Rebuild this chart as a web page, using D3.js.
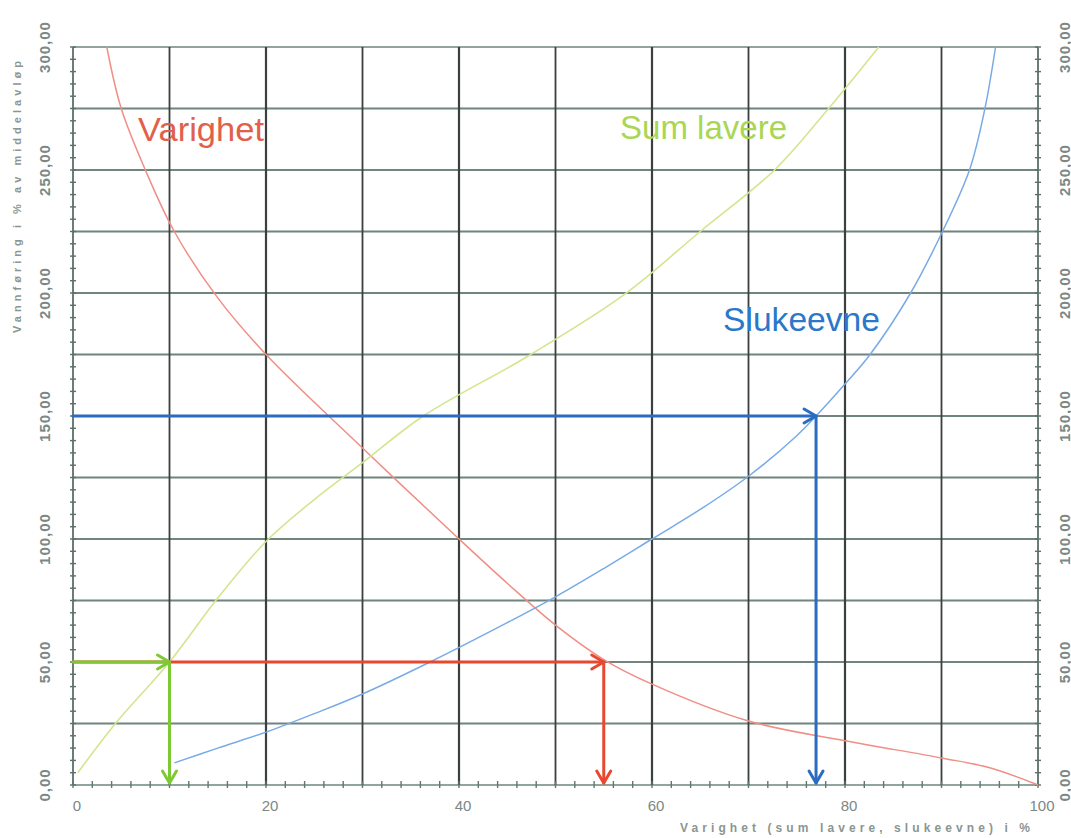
<!DOCTYPE html>
<html><head><meta charset="utf-8">
<script src="https://cdn.jsdelivr.net/npm/d3@7"></script>
<style>body{margin:0;background:#fff}svg{display:block}</style>
</head><body>
<svg id="c" width="1071" height="838"></svg>
<script>
// ---- data ----
const xTicks = [0, 20, 40, 60, 80, 100];
const xTickLabels = ["0", "20", "40", "60", "80", "100"];
const yTicks = [0, 50, 100, 150, 200, 250, 300];
const yTickLabels = ["0,00", "50,00", "100,00", "150,00", "200,00", "250,00", "300,00"];
const varighetX = [3.5, 5, 7.5, 10.5, 15, 20, 30, 40, 45, 50, 55, 60, 70, 80, 90, 95, 100];
const varighetY = [300, 275, 250, 225, 198, 175, 137, 100, 82, 65, 51, 41, 26, 18, 11, 7, 0];
const sumLavereX = [0.5, 4.4, 10, 15, 20, 25, 30, 36.3, 47, 57, 65, 72.7, 78.3, 83.5];
const sumLavereY = [5, 25, 50, 76, 99, 116, 131, 150, 174, 199, 225, 250, 275, 300];
const slukeevneX = [10.5, 15, 20, 25, 30, 37, 45, 50, 55, 60, 65, 70, 75, 77, 80, 82.6, 86.8, 90.1, 92.9, 94.5, 95.6];
const slukeevneY = [9, 15, 21.5, 29, 37, 50, 66, 76.5, 88, 100, 112, 125.5, 142, 150, 163, 175, 200, 225, 250, 275, 300];
// reading arrows: [x at curve, y level]
const arrowGreen = [10, 50];
const arrowRed = [55, 50];
const arrowBlue = [77, 150];
const seriesLabels = ["Varighet", "Sum lavere", "Slukeevne"];
const yTitle = "Vannføring i % av middelavløp";
const xTitle = "Varighet (sum lavere, slukeevne) i %";

// ---- drawing ----
const svg = d3.select("#c");
const x = d3.scaleLinear().domain([0, 100]).range([73, 1038]);
const y = d3.scaleLinear().domain([0, 300]).range([785, 47]);

const gridV = d3.range(0, 101, 10);
const gridH = d3.range(0, 301, 25);

// horizontal grid (greenish gray)
svg.append("g").selectAll("line").data(gridH).join("line")
  .attr("x1", x(0)).attr("x2", x(100))
  .attr("y1", d => y(d)).attr("y2", d => y(d))
  .attr("stroke", "#61786f").attr("stroke-width", d => (d === 0 || d === 300) ? 1.6 : 1.8).attr("opacity", 0.9);
// vertical grid (dark gray)
svg.append("g").selectAll("line").data(gridV).join("line")
  .attr("x1", d => x(d)).attr("x2", d => x(d))
  .attr("y1", y(0)).attr("y2", y(300))
  .attr("stroke", d => (d === 0 || d === 100) ? "#5c6f69" : "#3b3f3e")
  .attr("stroke-width", d => (d % 20 === 0 && d > 0 && d < 100) ? 2.2 : 1.8);

// minor ticks
const minorY = d3.range(0, 301, 5);
svg.append("g").selectAll("line").data(minorY).join("line")
  .attr("x1", x(0) - 3).attr("x2", x(0) + 3)
  .attr("y1", d => y(d)).attr("y2", d => y(d))
  .attr("stroke", "#5c6f69").attr("stroke-width", 1.4);
svg.append("g").selectAll("line").data(minorY).join("line")
  .attr("x1", x(100) - 3).attr("x2", x(100) + 3)
  .attr("y1", d => y(d)).attr("y2", d => y(d))
  .attr("stroke", "#5c6f69").attr("stroke-width", 1.4);
const minorX = d3.range(0, 101, 2);
svg.append("g").selectAll("line").data(minorX).join("line")
  .attr("x1", d => x(d)).attr("x2", d => x(d))
  .attr("y1", y(0) - 4).attr("y2", y(0) + 3)
  .attr("stroke", "#5c7a70").attr("stroke-width", 1.4);

// y tick labels (left & right)
const lblStyle = s => s.attr("fill", "#7b8884").attr("font-family", "Liberation Sans, Arial, sans-serif")
  .attr("font-size", 15).attr("font-weight", "bold").attr("letter-spacing", 1)
  .attr("text-anchor", "middle").attr("dominant-baseline", "central");
svg.append("g").selectAll("text").data(yTicks).join("text")
  .attr("transform", d => `translate(44,${y(d)}) rotate(-90)`)
  .text((d, i) => yTickLabels[i]).call(lblStyle);
svg.append("g").selectAll("text").data(yTicks).join("text")
  .attr("transform", d => `translate(1064,${y(d)}) rotate(-90)`)
  .text((d, i) => yTickLabels[i]).call(lblStyle);

// x tick labels
svg.append("g").selectAll("text").data(xTicks).join("text")
  .attr("x", d => x(d) + 4).attr("y", 811)
  .attr("fill", "#7b8884").attr("font-family", "Liberation Sans, Arial, sans-serif")
  .attr("font-size", 15).attr("text-anchor", "middle")
  .text((d, i) => xTickLabels[i]);

// axis titles
svg.append("text").attr("transform", "translate(21,197) rotate(-90)")
  .attr("text-anchor", "middle").attr("fill", "#8a9692")
  .attr("font-family", "Liberation Sans, Arial, sans-serif").attr("font-size", 11).attr("font-weight", "bold")
  .attr("textLength", 272).attr("lengthAdjust", "spacing").text(yTitle);
svg.append("text").attr("x", 855).attr("y", 832)
  .attr("text-anchor", "middle").attr("fill", "#8a9692")
  .attr("font-family", "Liberation Sans, Arial, sans-serif").attr("font-size", 12).attr("font-weight", "bold")
  .attr("textLength", 350).attr("lengthAdjust", "spacing").text(xTitle);

// curves
const line = d3.line().x(d => x(d[0])).y(d => y(d[1])).curve(d3.curveCatmullRom.alpha(0.5));
const zip = (a, b) => a.map((v, i) => [v, b[i]]);
svg.append("path").attr("d", line(zip(varighetX, varighetY)))
  .attr("fill", "none").attr("stroke", "#ef8f86").attr("stroke-width", 1.5);
svg.append("path").attr("d", line(zip(sumLavereX, sumLavereY)))
  .attr("fill", "none").attr("stroke", "#d3e68e").attr("stroke-width", 1.6);
svg.append("path").attr("d", line(zip(slukeevneX, slukeevneY)))
  .attr("fill", "none").attr("stroke", "#78abe6").attr("stroke-width", 1.5);

// reading arrows
function arrow(pt, color) {
  const [ax, ay] = pt;
  const g = svg.append("g").attr("stroke", color).attr("stroke-width", 3).attr("fill", "none")
    .attr("stroke-linecap", "round").attr("stroke-linejoin", "round");
  g.append("line").attr("x1", x(0)).attr("x2", x(ax)).attr("y1", y(ay)).attr("y2", y(ay));
  g.append("line").attr("x1", x(ax)).attr("x2", x(ax)).attr("y1", y(ay)).attr("y2", y(0) - 2);
  const tx = x(ax), ty = y(ay);
  g.append("path").attr("d", `M${tx - 12},${ty - 7} L${tx},${ty} L${tx - 12},${ty + 7}`);
  const by = y(0) - 2;
  g.append("path").attr("d", `M${tx - 7},${by - 12} L${tx},${by} L${tx + 7},${by - 12}`);
}
arrow(arrowBlue, "#2a6cc0");
arrow(arrowRed, "#e8482f");
arrow(arrowGreen, "#7cc934");

// series labels
const labFont = "Liberation Sans, Arial, sans-serif";
svg.append("text").attr("x", 138).attr("y", 141).attr("fill", "#e2604a")
  .attr("font-family", labFont).attr("font-size", 33).attr("textLength", 126).attr("lengthAdjust", "spacingAndGlyphs")
  .text(seriesLabels[0]);
svg.append("text").attr("x", 620).attr("y", 139).attr("fill", "#a9d653")
  .attr("font-family", labFont).attr("font-size", 33).attr("textLength", 167).attr("lengthAdjust", "spacingAndGlyphs")
  .text(seriesLabels[1]);
svg.append("text").attr("x", 723).attr("y", 331).attr("fill", "#2b78c9")
  .attr("font-family", labFont).attr("font-size", 33).attr("textLength", 157).attr("lengthAdjust", "spacingAndGlyphs")
  .text(seriesLabels[2]);
</script>
</body></html>
